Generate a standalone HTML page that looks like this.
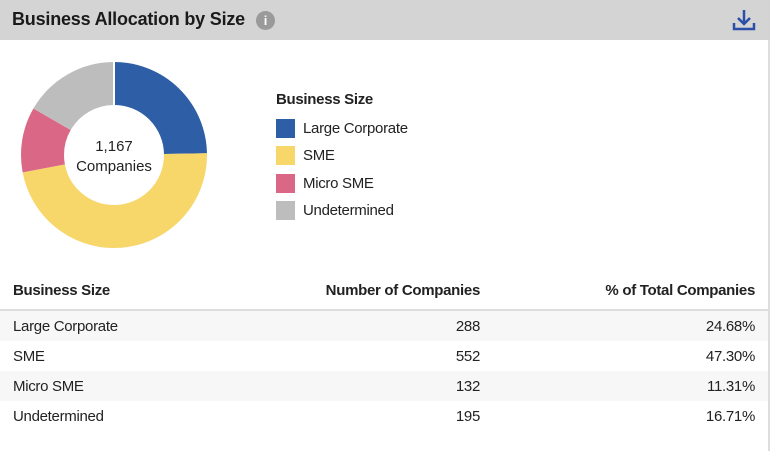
<!DOCTYPE html>
<html><head><style>
*{margin:0;padding:0;box-sizing:border-box}
body{width:770px;height:451px;background:#fff;font-family:"Liberation Sans",Arial,sans-serif;color:#222;position:relative;overflow:hidden}
.hdr{position:absolute;left:0;top:0;width:770px;height:40px;background:#d4d4d4}
.title{position:absolute;left:12px;top:9px;font-size:18px;font-weight:bold;letter-spacing:-0.2px;color:#1a1a1a}
.info{position:absolute;left:256px;top:11px;width:19px;height:19px;border-radius:50%;background:#9a9a9a;color:#fff;font-size:13px;font-weight:bold;text-align:center;line-height:19px}
.rb{position:absolute;right:0;top:40px;width:2px;height:411px;background:#ddd}
.leg{position:absolute;left:276px;font-size:15px;letter-spacing:-0.3px}
.sw{position:absolute;left:276px;width:19px;height:19px}
.t{position:absolute;font-size:15px;letter-spacing:-0.3px}
.b{font-weight:bold}
.row{position:absolute;left:0;width:768px;height:30px}
</style></head><body>
<div class="hdr"></div>
<div class="title">Business Allocation by Size</div>
<div class="info">i</div>
<svg style="position:absolute;left:732px;top:8px" width="24" height="24" viewBox="0 0 24 24">
<path d="M12 2v13M6 10l6 6 6-6" stroke="#2b4fa8" stroke-width="2.5" fill="none"/>
<path d="M2 15v6h20v-6" stroke="#2b4fa8" stroke-width="2.5" fill="none"/>
</svg>
<div class="rb"></div>
<svg style="position:absolute;left:0;top:40px" width="240" height="230">
<g transform="rotate(-90 114 115)">
<circle cx="114" cy="115" r="71.5" fill="none" stroke="#2e5fa6" stroke-width="43" stroke-dasharray="110.87 449.25" stroke-dashoffset="0"/>
<circle cx="114" cy="115" r="71.5" fill="none" stroke="#f7d66a" stroke-width="43" stroke-dasharray="212.5 449.25" stroke-dashoffset="-110.87"/>
<circle cx="114" cy="115" r="71.5" fill="none" stroke="#db6786" stroke-width="43" stroke-dasharray="50.81 449.25" stroke-dashoffset="-323.37"/>
<circle cx="114" cy="115" r="71.5" fill="none" stroke="#bdbdbd" stroke-width="43" stroke-dasharray="75.07 449.25" stroke-dashoffset="-374.18"/>
</g>
<line x1="114" y1="22" x2="114" y2="65" stroke="#fff" stroke-width="2"/>
<text x="114" y="111" text-anchor="middle" font-size="15" font-family="Liberation Sans" fill="#222">1,167</text>
<text x="114" y="131" text-anchor="middle" font-size="15" font-family="Liberation Sans" fill="#222">Companies</text>
</svg>
<div class="leg b" style="top:91px">Business Size</div>
<div class="sw" style="top:119px;background:#2e5fa6"></div><div class="t" style="left:303px;top:120px">Large Corporate</div>
<div class="sw" style="top:146px;background:#f7d66a"></div><div class="t" style="left:303px;top:147px">SME</div>
<div class="sw" style="top:174px;background:#db6786"></div><div class="t" style="left:303px;top:175px">Micro SME</div>
<div class="sw" style="top:201px;background:#bdbdbd"></div><div class="t" style="left:303px;top:202px">Undetermined</div>

<div class="t b" style="left:13px;top:282px">Business Size</div>
<div class="t b" style="right:290px;top:282px">Number of Companies</div>
<div class="t b" style="right:15px;top:282px">% of Total Companies</div>
<div style="position:absolute;left:0;top:309px;width:768px;height:2px;background:#ddd"></div>
<div class="row" style="top:311px;background:#f7f7f7"></div>
<div class="row" style="top:371px;background:#f7f7f7"></div>
<div class="t" style="left:13px;top:318px">Large Corporate</div><div class="t" style="right:290px;top:318px">288</div><div class="t" style="right:15px;top:318px">24.68%</div>
<div class="t" style="left:13px;top:348px">SME</div><div class="t" style="right:290px;top:348px">552</div><div class="t" style="right:15px;top:348px">47.30%</div>
<div class="t" style="left:13px;top:378px">Micro SME</div><div class="t" style="right:290px;top:378px">132</div><div class="t" style="right:15px;top:378px">11.31%</div>
<div class="t" style="left:13px;top:408px">Undetermined</div><div class="t" style="right:290px;top:408px">195</div><div class="t" style="right:15px;top:408px">16.71%</div>
</body></html>
